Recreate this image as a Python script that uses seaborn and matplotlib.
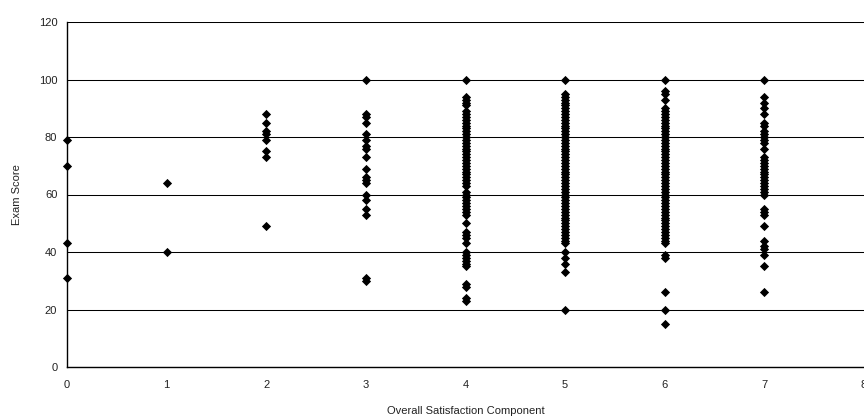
import matplotlib
matplotlib.use("Agg")
import matplotlib.pyplot as plt
import seaborn as sns
import pandas as pd

# Exam scores grouped by Overall Satisfaction Component value
scores_0 = [79, 70, 43, 31]
scores_1 = [64, 40]
scores_2 = [88, 85, 82, 81, 79, 75, 73, 49]
scores_3 = [100, 88, 87, 85, 81, 79, 77, 76, 73, 69, 66, 65, 64, 60, 58, 55, 53, 31, 30]
scores_4 = [100, 94, 93, 92, 91, 89, 88, 87, 86, 85, 84, 83, 82, 81, 80, 79, 78, 77,
            76, 75, 74, 73, 72, 71, 70, 69, 68, 67, 66, 65, 64, 63, 61, 60, 59, 58,
            57, 56, 55, 54, 53, 50, 47, 46, 45, 43, 40, 39, 38, 37, 36, 35, 29, 28,
            24, 23]
scores_5 = [100, 95, 94, 93, 92, 91, 90, 89, 88, 87, 86, 85, 84, 83, 82, 81, 80, 79,
            78, 77, 76, 75, 74, 73, 72, 71, 70, 69, 68, 67, 66, 65, 64, 63, 62, 61,
            60, 59, 58, 57, 56, 55, 54, 53, 52, 51, 50, 49, 48, 47, 46, 45, 44, 43,
            40, 38, 36, 33, 20]
scores_6 = [100, 96, 95, 93, 90, 89, 88, 87, 86, 85, 84, 83, 82, 81, 80, 79, 78, 77,
            76, 75, 74, 73, 72, 71, 70, 69, 68, 67, 66, 65, 64, 63, 62, 61, 60, 59,
            58, 57, 56, 55, 54, 53, 52, 51, 50, 49, 48, 47, 46, 45, 44, 43, 39, 38,
            26, 20, 15]
scores_7 = [100, 94, 92, 90, 88, 85, 84, 82, 81, 80, 79, 78, 76, 73, 72, 71, 70, 69,
            68, 67, 66, 65, 64, 63, 62, 61, 60, 55, 54, 53, 49, 44, 42, 41, 39, 35, 26]

groups = [scores_0, scores_1, scores_2, scores_3, scores_4, scores_5, scores_6, scores_7]
x_ticks = [0, 1, 2, 3, 4, 5, 6, 7, 8]
y_ticks = [0, 20, 40, 60, 80, 100, 120]

rows = []
for comp, vals in enumerate(groups):
    for v in vals:
        rows.append({"Overall Satisfaction Component": comp, "Exam Score": v})
df = pd.DataFrame(rows)

sns.set_style("white")
plt.rcParams["font.family"] = ["Liberation Sans", "DejaVu Sans"]

fig = plt.figure(figsize=(8.64, 4.18), dpi=100)
ax = fig.add_axes([67 / 864, 1 - 367 / 418, 1 - 67 / 864, (367 - 22) / 418])

ax.set_xlim(0, 8)
ax.set_ylim(0, 120)
ax.set_xticks(x_ticks)
ax.set_yticks(y_ticks)
ax.yaxis.grid(True, color="#000000", linewidth=0.75)
ax.set_axisbelow(True)

sns.scatterplot(data=df, x="Overall Satisfaction Component", y="Exam Score",
                marker="D", color="black", s=22, edgecolor="black", linewidth=0,
                ax=ax, clip_on=False, zorder=3)

for side in ["top", "right"]:
    ax.spines[side].set_visible(False)
for side in ["left", "bottom"]:
    ax.spines[side].set_color("black")
    ax.spines[side].set_linewidth(1.0)

ax.tick_params(axis="both", which="major", direction="out", length=3, width=0.8,
               colors="black", labelsize=8, labelcolor="#222222")
ax.tick_params(axis="y", pad=4)
ax.tick_params(axis="x", pad=6)

ax.set_xlabel("Overall Satisfaction Component", fontsize=8, color="#222222", labelpad=12)
ax.set_ylabel("Exam Score", fontsize=8, color="#222222", labelpad=12)

fig.savefig("out.png", dpi=100)
